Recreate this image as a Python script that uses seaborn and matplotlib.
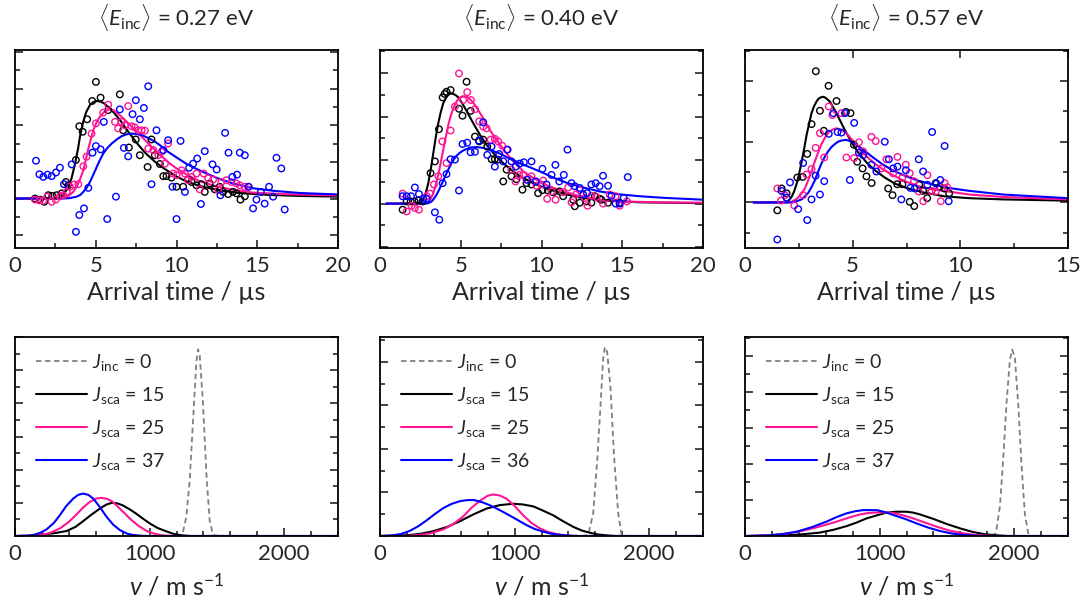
import numpy as np
import pandas as pd
import matplotlib
matplotlib.use("Agg")
import matplotlib.pyplot as plt
from matplotlib.ticker import MultipleLocator
import seaborn as sns

# ---------------- text ----------------
titles = [r"$\langle E_{\mathrm{inc}}\rangle$ = 0.27 eV",
          r"$\langle E_{\mathrm{inc}}\rangle$ = 0.40 eV",
          r"$\langle E_{\mathrm{inc}}\rangle$ = 0.57 eV"]
xlabel_top = "Arrival time / \u00b5s"
xlabel_bot = r"$v$ / m s$^{-1}$"
legend_labels = [
    [r"$J_{\mathrm{inc}}$ = 0", r"$J_{\mathrm{sca}}$ = 15", r"$J_{\mathrm{sca}}$ = 25", r"$J_{\mathrm{sca}}$ = 37"],
    [r"$J_{\mathrm{inc}}$ = 0", r"$J_{\mathrm{sca}}$ = 15", r"$J_{\mathrm{sca}}$ = 25", r"$J_{\mathrm{sca}}$ = 36"],
    [r"$J_{\mathrm{inc}}$ = 0", r"$J_{\mathrm{sca}}$ = 15", r"$J_{\mathrm{sca}}$ = 25", r"$J_{\mathrm{sca}}$ = 37"],
]

# ---------------- panel 1 (0.27 eV) arrival-time data ----------------
tof1_pts_black = [(1.24,0.0),(1.55,-0.03),(1.81,-0.09),(2.06,0.09),(2.31,0.07),(2.58,0.09),(2.89,0.14),(3.15,0.45),
    (3.3,0.36),(3.77,1.05),(3.98,1.97),(4.19,1.82),(4.47,2.16),(4.78,2.66),(5.01,3.18),(5.3,2.75),(5.77,2.41),
    (6.49,2.84),(6.7,1.86),(7.05,1.39),(7.48,1.61),(7.73,1.18),(8.21,0.86),(8.45,1.61),(8.66,1.18),(8.97,0.94),
    (9.18,0.61),(9.38,0.61),(9.69,0.57),(10.0,0.32),(10.41,0.32),(10.72,0.52),(10.93,0.45),(11.24,0.36),(11.55,0.39),
    (11.75,0.18),(12.06,0.41),(12.37,0.25),(12.68,0.32),(12.89,0.18),(13.2,0.12),(13.5,0.18),(13.71,0.14),
    (13.96,-0.03),(14.23,0.06)]
tof1_pts_pink = [(1.24,-0.03),(1.51,-0.05),(1.75,-0.06),(2.0,0.05),(2.27,-0.09),(2.52,-0.03),(2.78,0.06),(2.99,0.09),
    (3.2,0.18),(3.4,0.32),(3.65,0.38),(3.92,0.39),(4.23,0.88),(4.43,1.14),(4.74,1.77),(5.01,2.05),(5.46,2.34),
    (5.77,2.56),(6.19,2.09),(6.39,1.91),(6.6,2.09),(6.8,2.0),(7.01,2.52),(7.22,1.97),(7.42,1.94),(7.63,1.86),
    (7.84,1.86),(8.04,1.85),(8.25,1.36),(8.56,1.32),(8.87,1.18),(9.07,1.27),(9.28,0.95),(9.48,1.5),(9.79,0.68),
    (10.0,0.64),(10.31,0.77),(10.52,0.68),(10.72,0.5),(10.93,0.59),(11.24,0.68),(11.44,0.25),(11.69,0.68),
    (11.96,0.55),(12.27,0.52),(12.58,0.23),(12.78,0.45),(13.09,0.5),(13.4,0.45),(13.71,0.41),(13.92,0.36),
    (14.23,0.32),(14.43,0.32)]
tof1_pts_blue = [(1.3,1.03),(1.51,0.66),(1.75,0.59),(2.02,0.65),(2.27,0.61),(2.54,0.71),(2.78,0.84),(3.03,0.39),
    (3.51,0.93),(3.77,-0.91),(3.98,-0.45),(4.27,-0.27),(4.54,0.29),(4.8,1.25),(5.01,1.43),(5.3,1.34),(5.5,2.09),
    (5.71,-0.56),(6.25,0.05),(6.49,2.43),(6.74,1.38),(7.01,1.15),(7.28,2.3),(7.48,2.68),(7.73,2.16),(7.98,2.47),
    (8.25,3.06),(8.45,0.39),(8.76,1.86),(9.18,1.32),(9.48,1.59),(9.75,0.32),(10.0,-0.56),(10.25,1.57),(10.52,0.18),
    (10.78,0.84),(11.03,0.95),(11.28,1.09),(11.51,-0.15),(11.75,1.29),(12.23,0.93),(12.49,0.79),(12.72,0.09),
    (13.01,1.79),(13.22,1.25),(13.46,0.59),(13.75,0.65),(13.92,1.25),(14.23,1.18),(14.47,0.32),(14.74,-0.27),
    (14.95,-0.03),(15.22,0.18),(15.46,-0.14),(15.73,0.32),(15.98,0.05),(16.19,1.11),(16.49,0.82),(16.7,-0.3)]
tof1_fit_black = [(0,0),(2.4,0),(2.7,0.02),(3.0,0.12),(3.3,0.3),(3.5,0.55),(3.72,0.95),(3.9,1.35),(4.02,1.68),
    (4.2,2.05),(4.4,2.35),(4.64,2.55),(4.85,2.63),(5.06,2.66),(5.3,2.64),(5.5,2.6),(5.99,2.41),(6.5,2.14),
    (7.02,1.82),(7.53,1.52),(8.05,1.25),(8.67,1.0),(9.29,0.8),(10.0,0.6),(10.6,0.47),(11.44,0.34),(12.68,0.22),
    (13.9,0.15),(15.6,0.1),(17.6,0.07),(20,0.05)]
tof1_fit_pink = [(0,0),(2.6,0),(3.0,0.02),(3.3,0.06),(3.6,0.18),(3.82,0.32),(4.05,0.55),(4.23,0.77),(4.4,1.08),
    (4.54,1.36),(4.7,1.62),(4.85,1.86),(5.05,2.08),(5.26,2.23),(5.47,2.34),(5.68,2.41),(5.9,2.43),(6.09,2.41),
    (6.5,2.27),(7.02,2.05),(7.53,1.82),(8.15,1.55),(8.87,1.23),(9.6,0.95),(10.0,0.82),(10.6,0.66),(11.44,0.47),
    (12.47,0.33),(13.5,0.24),(14.74,0.16),(16.6,0.12),(20,0.08)]
tof1_fit_blue = [(0,0),(3.0,0),(3.4,0.01),(3.82,0.05),(4.05,0.1),(4.23,0.18),(4.45,0.3),(4.64,0.45),(4.85,0.65),
    (5.06,0.86),(5.26,1.05),(5.47,1.23),(5.72,1.38),(5.99,1.5),(6.3,1.61),(6.6,1.7),(6.9,1.75),(7.22,1.77),
    (7.53,1.76),(7.84,1.73),(8.25,1.65),(8.67,1.55),(9.08,1.42),(9.49,1.27),(10.0,1.12),(10.6,0.95),(11.03,0.85),
    (11.86,0.68),(12.68,0.53),(13.5,0.41),(14.74,0.28),(15.98,0.21),(17.63,0.15),(20,0.11)]

# ---------------- panel 2 (0.40 eV) arrival-time data ----------------
tof2_pts_black = [(1.4,-0.14),(1.65,0.05),(1.9,0.05),(2.14,0.05),(2.39,0.08),(2.64,0.05),(3.13,0.7),(3.4,0.97),
    (3.65,1.71),(3.88,2.44),(4.0,2.52),(4.12,2.57),(4.37,2.61),(4.89,2.18),(5.11,2.02),(5.36,2.8),(5.61,2.13),
    (5.88,1.54),(6.14,1.43),(6.39,1.47),(6.64,1.31),(6.91,1.02),(7.11,1.02),(7.32,1.01),(7.63,0.51),(7.84,0.78),
    (8.14,0.63),(8.45,0.56),(8.82,0.32),(9.07,0.47),(9.38,0.44),(9.79,0.24),(10.06,0.31),(10.4,0.3),(10.72,0.26),
    (11.13,0.28),(11.34,0.17),(11.96,0.09),(12.06,-0.06),(12.37,0.02),(12.78,0.05),(13.09,0.02),(13.3,0.17),
    (13.6,0.11),(13.71,0.09),(14.12,0.02),(14.84,0.02)]
tof2_pts_pink = [(1.4,0.23),(1.65,-0.18),(1.96,-0.05),(2.16,-0.1),(2.41,-0.14),(2.89,0.17),(3.09,0.23),(3.34,0.44),
    (3.61,0.63),(3.86,1.43),(4.12,0.93),(4.37,1.68),(4.64,2.23),(4.89,2.99),(5.15,2.38),(5.4,2.56),(5.63,2.38),
    (5.88,2.17),(6.14,1.89),(6.39,1.77),(6.6,1.73),(6.85,1.47),(7.11,1.49),(7.32,1.43),(7.57,1.33),(7.84,1.24),
    (8.14,0.78),(8.39,0.51),(8.62,0.66),(8.87,0.66),(9.07,0.55),(9.38,0.63),(9.69,0.41),(10.0,0.44),(10.1,0.53),
    (10.35,0.11),(10.62,0.28),(10.87,0.09),(11.34,0.26),(11.65,0.37),(11.86,0.03),(12.13,0.21),(12.37,0.31),
    (12.68,0.13),(12.85,-0.05),(13.09,0.18),(13.4,0.15),(13.81,0.0),(14.22,0.21),(14.59,0.17),(14.84,-0.05),
    (15.29,0.05)]
tof2_pts_blue = [(1.4,0.17),(1.65,0.17),(1.92,0.17),(2.16,0.37),(2.41,0.22),(2.68,0.11),(2.89,0.11),(3.4,-0.2),
    (3.67,-0.37),(3.88,0.47),(4.12,0.68),(4.37,1.02),(4.64,1.01),(4.89,0.3),(5.11,1.37),(5.4,1.4),(5.61,1.18),
    (5.88,1.19),(6.12,1.45),(6.39,1.87),(6.64,1.12),(6.91,1.31),(7.11,0.85),(7.38,1.14),(7.63,0.97),(7.9,1.24),
    (8.14,0.97),(8.41,0.85),(8.66,0.92),(8.91,0.95),(9.11,0.55),(9.38,0.97),(9.65,0.51),(10.06,0.8),(10.31,0.44),
    (10.62,0.66),(10.86,0.89),(11.1,0.51),(11.38,0.66),(11.61,1.24),(11.86,0.47),(12.06,0.4),(12.37,0.36),
    (12.58,0.21),(12.82,0.24),(13.09,0.44),(13.35,0.47),(13.6,0.4),(13.81,0.64),(14.12,0.41),(14.33,0.18),
    (14.59,0.0),(14.84,0.0),(15.09,0.13),(15.34,0.61)]
tof2_fit_black = [(0.4,0),(2.3,0),(2.5,0.02),(2.68,0.09),(2.84,0.25),(2.99,0.47),(3.15,0.8),(3.3,1.16),(3.45,1.52),
    (3.61,1.85),(3.76,2.1),(3.92,2.31),(4.08,2.43),(4.23,2.5),(4.38,2.53),(4.54,2.52),(4.7,2.49),(4.85,2.44),
    (5.15,2.27),(5.46,2.06),(5.77,1.85),(6.19,1.58),(6.6,1.35),(7.11,1.12),(7.63,0.93),(8.25,0.74),(8.87,0.59),
    (9.48,0.47),(10.2,0.36),(11.13,0.25),(12.37,0.14),(14.0,0.07),(16.06,0.03),(20,0.01)]
tof2_fit_pink = [(0.4,0),(2.6,0),(2.8,0.01),(2.99,0.05),(3.15,0.12),(3.3,0.24),(3.45,0.42),(3.61,0.66),(3.76,0.94),
    (3.92,1.24),(4.08,1.54),(4.23,1.81),(4.38,2.02),(4.54,2.19),(4.7,2.32),(4.85,2.4),(5.0,2.45),(5.15,2.47),
    (5.3,2.46),(5.46,2.44),(5.77,2.32),(6.08,2.15),(6.39,1.96),(6.8,1.69),(7.22,1.47),(7.73,1.2),(8.25,0.97),
    (8.87,0.74),(9.48,0.59),(10.2,0.44),(11.34,0.28),(12.37,0.17),(13.6,0.09),(15.06,0.05),(17.1,0.03),(20,0.02)]
tof2_fit_blue = [(0.4,0),(2.8,0),(3.0,0.01),(3.2,0.05),(3.35,0.12),(3.51,0.21),(3.66,0.32),(3.81,0.44),(3.97,0.57),
    (4.12,0.7),(4.28,0.82),(4.43,0.93),(4.58,1.02),(4.74,1.1),(4.95,1.17),(5.15,1.22),(5.57,1.29),(5.98,1.3),
    (6.39,1.28),(6.91,1.22),(7.42,1.15),(8.04,1.03),(8.66,0.93),(9.38,0.82),(10.2,0.69),(10.72,0.6),(11.54,0.48),
    (12.58,0.37),(13.6,0.28),(14.64,0.22),(16.06,0.17),(17.71,0.13),(20,0.09)]

# ---------------- panel 3 (0.57 eV) arrival-time data ----------------
tof3_pts_black = [(1.5,-0.13),(1.7,0.23),(1.93,0.15),(2.43,0.41),(2.68,0.42),(2.89,0.8),(3.09,1.29),(3.29,2.16),
    (3.48,1.51),(3.66,1.18),(3.88,1.92),(4.25,1.67),(4.69,1.49),(4.9,1.47),(5.06,0.95),(5.21,0.67),(5.46,0.56),
    (5.64,0.43),(5.88,0.32),(6.65,0.23),(6.85,0.12),(7.07,0.3),(7.31,0.3),(7.65,0.01),(7.86,-0.06),(8.09,0.29),
    (8.27,0.19),(8.46,0.07),(8.66,0.19),(8.86,0.32),(9.05,0.26),(9.25,0.23),(9.48,0.15)]
tof3_pts_pink = [(1.5,0.23),(1.67,0.03),(1.85,0.12),(2.29,-0.05),(2.7,0.12),(2.86,0.46),(3.09,0.55),(3.28,0.9),
    (3.48,1.14),(3.68,0.74),(3.89,1.58),(4.06,1.44),(4.48,1.47),(4.71,0.74),(5.07,0.73),(5.29,0.99),(5.49,0.84),
    (5.87,1.08),(6.07,1.01),(6.34,0.56),(6.57,0.71),(6.88,0.48),(7.08,0.75),(7.3,0.4),(7.47,0.62),(7.65,0.48),
    (7.85,0.35),(8.07,0.18),(8.28,0.02),(8.47,0.45),(8.66,0.19),(8.86,0.18),(9.09,0.02),(9.27,0.32),(9.4,0.25)]
tof3_pts_blue = [(1.5,-0.61),(1.7,0.19),(1.93,0.08),(2.09,0.33),(2.47,-0.11),(2.7,0.65),(2.89,-0.29),(3.09,0.05),
    (3.28,0.44),(3.48,0.13),(3.68,0.35),(3.89,1.13),(4.1,1.47),(4.3,1.16),(4.48,1.15),(4.64,1.47),(4.87,0.37),
    (5.07,1.31),(5.29,0.82),(5.49,0.78),(5.87,0.62),(6.1,0.51),(6.49,1.0),(6.68,0.71),(6.88,0.56),(7.08,0.59),
    (7.26,0.05),(7.47,0.53),(7.68,0.24),(7.88,0.23),(8.07,0.71),(8.27,0.51),(8.47,0.29),(8.69,1.16),(8.89,0.31),
    (9.07,0.37),(9.27,0.93),(9.46,0.02)]
tof3_fit_black = [(0.4,0),(1.8,0),(1.93,0.01),(2.05,0.04),(2.16,0.09),(2.28,0.18),(2.4,0.31),(2.52,0.48),
    (2.63,0.67),(2.75,0.89),(2.86,1.11),(2.98,1.3),(3.09,1.47),(3.2,1.58),(3.32,1.66),(3.42,1.71),(3.52,1.73),
    (3.62,1.74),(3.71,1.73),(3.82,1.7),(3.94,1.66),(4.17,1.52),(4.4,1.36),(4.64,1.19),(4.95,0.99),(5.26,0.82),
    (5.64,0.66),(6.03,0.53),(6.49,0.41),(6.96,0.31),(7.57,0.23),(8.35,0.16),(9.27,0.1),(10.43,0.07),(12,0.05),
    (15,0.03)]
tof3_fit_pink = [(0.4,0),(2.0,0),(2.16,0.01),(2.32,0.04),(2.47,0.08),(2.63,0.15),(2.78,0.23),(2.94,0.37),
    (3.09,0.51),(3.2,0.63),(3.32,0.75),(3.44,0.86),(3.55,0.96),(3.67,1.04),(3.79,1.11),(3.9,1.16),(4.02,1.19),
    (4.14,1.21),(4.25,1.22),(4.36,1.21),(4.48,1.19),(4.71,1.14),(4.95,1.04),(5.26,0.92),(5.56,0.79),(5.95,0.66),
    (6.34,0.56),(6.8,0.46),(7.42,0.35),(8.04,0.27),(8.66,0.22),(9.43,0.18),(10.43,0.13),(12,0.09),(15,0.05)]
tof3_fit_blue = [(0.4,0),(2.15,0),(2.32,0.01),(2.47,0.03),(2.63,0.05),(2.78,0.1),(2.94,0.16),(3.1,0.26),
    (3.25,0.37),(3.4,0.51),(3.55,0.64),(3.7,0.75),(3.86,0.84),(4.01,0.91),(4.17,0.96),(4.32,1.0),(4.48,1.02),
    (4.71,1.03),(4.95,1.0),(5.26,0.93),(5.56,0.85),(5.95,0.74),(6.34,0.64),(6.8,0.54),(7.42,0.44),(8.04,0.36),
    (8.66,0.3),(9.43,0.24),(10.43,0.19),(12,0.13),(15,0.07)]

# ---------------- velocity distributions ----------------
vel1_J0 = [(1200,0),(1243,0.06),(1273,1.16),(1298,3.36),(1323,6.96),(1348,10.56),(1360,11.26),(1372,10.96),
    (1397,7.96),(1422,3.76),(1446,0.96),(1471,0.06),(1520,0)]
vel1_black = [(0,0),(100,0),(200,0.08),(300,0.18),(383,0.3),(450,0.55),(507,0.9),(570,1.3),(630,1.65),(680,1.9),
    (720,2.0),(760,1.97),(800,1.85),(850,1.62),(900,1.35),(950,1.05),(1001,0.76),(1060,0.48),(1125,0.28),
    (1180,0.12),(1240,0.04),(1300,0),(2400,0)]
vel1_pink = [(0,0),(150,0.02),(210,0.08),(270,0.22),(334,0.46),(400,0.85),(457,1.3),(510,1.75),(556,2.06),
    (600,2.25),(640,2.3),(680,2.25),(720,2.1),(760,1.8),(803,1.46),(860,1.0),(927,0.56),(980,0.3),(1026,0.16),
    (1080,0.06),(1125,0.02),(1200,0),(2400,0)]
vel1_blue = [(0,0),(100,0.03),(136,0.06),(190,0.2),(235,0.4),(290,0.8),(334,1.26),(380,1.8),(433,2.26),
    (470,2.48),(507,2.56),(545,2.48),(581,2.26),(630,1.75),(680,1.16),(730,0.68),(779,0.36),(830,0.15),
    (878,0.06),(950,0.01),(1001,0),(2400,0)]
vel2_J0 = [(1500,0),(1547,0.05),(1584,1.03),(1614,3.45),(1639,6.03),(1658,8.15),(1671,8.68),(1688,8.45),
    (1713,6.79),(1738,3.76),(1770,1.03),(1795,0.05),(1840,0)]
vel2_black = [(0,0),(150,0.02),(223,0.05),(300,0.1),(396,0.22),(500,0.42),(594,0.68),(690,0.98),(792,1.26),
    (890,1.42),(990,1.48),(1060,1.45),(1139,1.36),(1210,1.17),(1287,0.95),(1360,0.68),(1436,0.42),(1500,0.25),
    (1559,0.15),(1620,0.07),(1683,0.03),(1750,0),(2400,0)]
vel2_pink = [(0,0),(200,0.01),(297,0.05),(380,0.13),(470,0.3),(545,0.55),(619,0.9),(680,1.3),(743,1.62),
    (800,1.85),(842,1.91),(890,1.86),(941,1.71),(1000,1.38),(1064,0.95),(1125,0.6),(1188,0.35),(1250,0.18),
    (1312,0.09),(1380,0.03),(1436,0),(2400,0)]
vel2_blue = [(0,0),(99,0.03),(160,0.1),(223,0.24),(285,0.45),(347,0.72),(410,1.02),(470,1.28),(530,1.47),
    (594,1.6),(650,1.65),(700,1.65),(760,1.55),(817,1.41),(880,1.22),(941,1.02),(1015,0.76),(1089,0.5),
    (1150,0.32),(1213,0.2),(1275,0.1),(1337,0.05),(1400,0.02),(1480,0),(2400,0)]
vel3_J0 = [(1830,0),(1864,0.15),(1894,1.63),(1918,4.22),(1943,7.37),(1968,9.78),(1985,10.37),(2005,9.96),
    (2030,7.37),(2054,4.04),(2079,1.26),(2104,0.15),(2140,0)]
vel3_black = [(0,0),(200,0.01),(309,0.04),(433,0.1),(557,0.19),(660,0.35),(755,0.55),(830,0.75),(903,0.98),
    (980,1.15),(1052,1.3),(1120,1.35),(1200,1.35),(1250,1.3),(1300,1.2),(1400,0.95),(1498,0.67),(1600,0.42),
    (1696,0.22),(1780,0.1),(1869,0.04),(1950,0),(2400,0)]
vel3_pink = [(0,0),(186,0.04),(309,0.13),(433,0.3),(557,0.53),(681,0.8),(770,1.02),(854,1.2),(920,1.28),
    (978,1.31),(1040,1.31),(1101,1.28),(1175,1.15),(1250,0.98),(1336,0.75),(1423,0.52),(1520,0.3),(1621,0.15),
    (1710,0.06),(1795,0.02),(1870,0),(2400,0)]
vel3_blue = [(0,0),(186,0.04),(290,0.12),(384,0.24),(500,0.5),(606,0.8),(680,1.05),(755,1.26),(820,1.38),
    (879,1.44),(978,1.44),(1040,1.33),(1101,1.17),(1190,0.95),(1275,0.7),(1360,0.47),(1448,0.28),(1535,0.14),
    (1621,0.06),(1710,0.02),(1795,0),(2400,0)]

# ---------------- styling ----------------
BLACK, PINK, BLUE, GRAY = "#000000", "#FF1493", "#0000FF", "#808080"
series_colors = [BLACK, PINK, BLUE]

top_pts = [[tof1_pts_black, tof1_pts_pink, tof1_pts_blue],
           [tof2_pts_black, tof2_pts_pink, tof2_pts_blue],
           [tof3_pts_black, tof3_pts_pink, tof3_pts_blue]]
top_fit = [[tof1_fit_black, tof1_fit_pink, tof1_fit_blue],
           [tof2_fit_black, tof2_fit_pink, tof2_fit_blue],
           [tof3_fit_black, tof3_fit_pink, tof3_fit_blue]]
bot_curves = [[vel1_J0, vel1_black, vel1_pink, vel1_blue],
              [vel2_J0, vel2_black, vel2_pink, vel2_blue],
              [vel3_J0, vel3_black, vel3_pink, vel3_blue]]

top_xlim = [(0, 20), (0, 20), (0, 15)]
top_ylim = [(-1.35, 4.05), (-1.02, 3.53), (-0.75, 2.51)]
bot_ylim = [(0, 12), (0, 9.14), (0, 11.07)]

sns.set_theme(style="ticks")
plt.rcParams["font.family"] = ["Lato", "DejaVu Sans"]
plt.rcParams["mathtext.fontset"] = "custom"
plt.rcParams["mathtext.rm"] = "Lato"
plt.rcParams["mathtext.it"] = "Lato:italic"
plt.rcParams["mathtext.bf"] = "Lato:bold"
plt.rcParams["axes.linewidth"] = 1.3

W, H = 1086, 606
fig = plt.figure(figsize=(W / 100, H / 100), dpi=100)
lefts = [15, 380, 745]
TICK_FS = 16
LABEL_FS = 18
TITLE_FS = 16
LEG_FS = 14


def to_df(pairs):
    a = np.asarray(pairs, dtype=float)
    return pd.DataFrame({"x": a[:, 0], "y": a[:, 1]})


def style_axis(ax):
    ax.tick_params(axis="both", which="both", direction="in", width=1.2,
                   left=True, right=True, bottom=True, top=False,
                   labelleft=False, labelsize=TICK_FS, pad=6)
    ax.tick_params(which="major", length=6)
    ax.tick_params(which="minor", length=3.5)
    for s in ax.spines.values():
        s.set_linewidth(1.3)
        s.set_color("black")


for i in range(3):
    # ---- top: arrival-time distributions ----
    ax = fig.add_axes([lefts[i] / W, (H - 248) / H, 323 / W, 198 / H])
    for fit, c in zip(top_fit[i], series_colors):
        sns.lineplot(data=to_df(fit), x="x", y="y", ax=ax, color=c, lw=1.5,
                     sort=False, estimator=None)
    for pts, c in zip(top_pts[i], series_colors):
        sns.scatterplot(data=to_df(pts), x="x", y="y", ax=ax, color="none",
                        edgecolor=c, s=22, linewidth=1.0, zorder=3)
    ax.set_xlim(*top_xlim[i])
    ax.set_ylim(*top_ylim[i])
    ax.xaxis.set_major_locator(MultipleLocator(5))
    ax.xaxis.set_minor_locator(MultipleLocator(2.5))
    ax.yaxis.set_major_locator(MultipleLocator(1))
    ax.yaxis.set_minor_locator(MultipleLocator(0.5))
    style_axis(ax)
    if i == 2:
        ax.tick_params(which="major", top=True)
    ax.set_xlabel(xlabel_top, fontsize=LABEL_FS, labelpad=3)
    ax.set_ylabel("")
    ax.set_title(titles[i], fontsize=TITLE_FS, pad=17)

    # ---- bottom: velocity distributions ----
    bx = fig.add_axes([lefts[i] / W, (H - 536) / H, 323 / W, 199 / H])
    labs = legend_labels[i]
    curves = bot_curves[i]
    sns.lineplot(data=to_df(curves[0]), x="x", y="y", ax=bx, color=GRAY, lw=1.3,
                 linestyle=(0, (3, 2)), sort=False, estimator=None, label=labs[0])
    for cur, c, lab in zip(curves[1:], series_colors, labs[1:]):
        sns.lineplot(data=to_df(cur), x="x", y="y", ax=bx, color=c, lw=1.5,
                     sort=False, estimator=None, label=lab)
    bx.set_xlim(0, 2400)
    bx.set_ylim(*bot_ylim[i])
    bx.xaxis.set_major_locator(MultipleLocator(1000))
    bx.xaxis.set_minor_locator(MultipleLocator(200))
    bx.yaxis.set_major_locator(MultipleLocator(2))
    bx.yaxis.set_minor_locator(MultipleLocator(1))
    style_axis(bx)
    bx.set_xlabel(xlabel_bot, fontsize=LABEL_FS, labelpad=6)
    bx.set_ylabel("")
    bx.legend(loc="upper left", bbox_to_anchor=(0.02, 1.0), frameon=False,
              fontsize=LEG_FS, handlelength=2.6, handletextpad=0.3,
              labelspacing=0.62, borderaxespad=0.35)

fig.savefig("out.png", dpi=100)
